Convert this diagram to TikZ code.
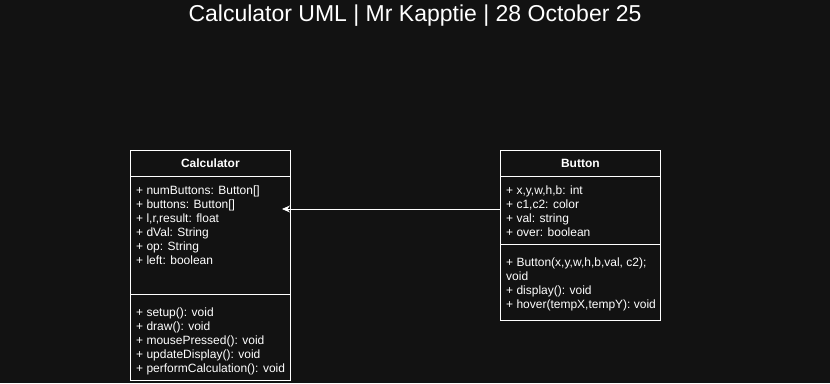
\documentclass[tikz,border=0pt]{standalone}
\usepackage{fontspec}
\setmainfont{Liberation Sans}
\usetikzlibrary{arrows.meta}
\definecolor{canvas}{HTML}{121212}

\begin{document}
\begin{tikzpicture}[x=1pt, y=-1pt,
	umlbox/.style = { draw=white, line width=0.8pt, minimum width=160pt, inner sep=0pt, anchor=north west },
	classname/.style = { text=white, font=\fontsize{12}{14}\selectfont\bfseries },
	member/.style = { text=white, anchor=base west, inner sep=0pt, font=\fontsize{12}{14}\selectfont },
	assoc/.style = { draw=white, line width=0.8pt, -{Stealth[length=8pt, width=7pt]} }
]
	\fill [canvas] (0,0) rectangle (830,383);
	\node [text=white, font=\fontsize{23}{27}\selectfont] (title) at (415,16) { Calculator UML | Mr Kapptie | 28 October 25 };

	% Calculator class
	\node [umlbox, minimum height=230pt] (calc) at (130,150) {};
	\node [classname] (calcname) at ([yshift=-13pt]calc.north) { Calculator };
	\draw [white, line width=0.8pt] ([yshift=-26pt]calc.north west) -- ([yshift=-26pt]calc.north east);
	\draw [white, line width=0.8pt] ([yshift=-144pt]calc.north west) -- ([yshift=-144pt]calc.north east);
	\foreach \t [count=\i from 0] in {{+ numButtons: Button[]}, {+ buttons: Button[]}, {+ l,r,result: float}, {+ dVal: String}, {+ op: String}, {+ left: boolean}}
		\node [member] (ca\i) at (136, 194+14*\i) { \t };
	\foreach \t [count=\i from 0] in {{+ setup(): void}, {+ draw(): void}, {+ mousePressed(): void}, {+ updateDisplay(): void}, {+ performCalculation(): void}}
		\node [member] (cm\i) at (136, 316+14*\i) { \t };

	% Button class
	\node [umlbox, minimum height=170pt] (btn) at (500,150) {};
	\node [classname] (btnname) at ([yshift=-13pt]btn.north) { Button };
	\draw [white, line width=0.8pt] ([yshift=-26pt]btn.north west) -- ([yshift=-26pt]btn.north east);
	\draw [white, line width=0.8pt] ([yshift=-94pt]btn.north west) -- ([yshift=-94pt]btn.north east);
	\foreach \t [count=\i from 0] in {{+ x,y,w,h,b: int}, {+ c1,c2: color}, {+ val: string}, {+ over: boolean}}
		\node [member] (ba\i) at (506, 194+14*\i) { \t };
	\foreach \t [count=\i from 0] in {{+ Button(x,y,w,h,b,val, c2);}, {void}, {+ display(): void}, {+ hover(tempX,tempY): void}}
		\node [member] (bm\i) at (506, 266+14*\i) { \t };

	% association
	\coordinate (tip) at (282,209);
	\draw [assoc] (btn.west |- tip) -- (tip);
\end{tikzpicture}
\end{document}
